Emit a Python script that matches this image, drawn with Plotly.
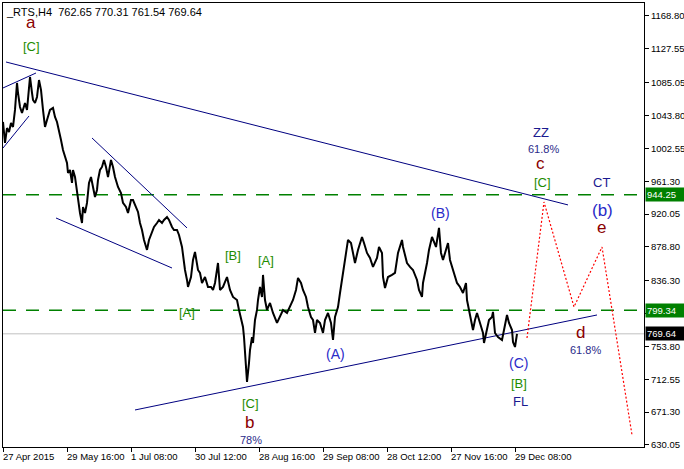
import plotly.graph_objects as go

# ---- price series (bar index, close) ----
bar = [0, 2, 4, 6, 8, 10, 12, 14, 15, 17, 19, 22, 24, 27, 29, 30, 32, 34, 36, 38,
       40, 42, 44, 47, 50, 52, 54, 56, 58, 60, 62, 64, 65, 67, 69, 70, 72, 74, 75, 77,
       79, 80, 82, 84, 86, 88, 90, 92, 94, 95, 97, 99, 101, 103, 105, 108, 110, 112, 115, 118,
       120, 123, 125, 128, 130, 133, 135, 137, 139, 141, 144, 146, 149, 151, 154, 156, 159, 161, 164, 166,
       169, 171, 174, 176, 179, 180, 182, 184, 185, 188, 190, 192, 195, 197, 199, 202, 205, 208, 210, 212,
       215, 217, 220, 224, 227, 230, 234, 236, 238, 240, 241, 242, 244, 246, 247, 249, 250, 252, 254, 255,
       257, 259, 260, 262, 264, 267, 270, 274, 277, 280, 284, 287, 290, 293, 295, 298, 300, 303, 305, 308,
       310, 312, 314, 317, 320, 322, 325, 328, 330, 332, 335, 337, 339, 341, 344, 345, 348, 350, 352, 355,
       359, 361, 364, 367, 370, 374, 376, 379, 380, 382, 385, 389, 392, 395, 399, 400, 404, 407, 410, 414,
       416, 419, 420, 424, 426, 429, 431, 433, 436, 438, 440, 443, 445, 447, 450, 452, 454, 457, 460, 463,
       464, 466, 468, 470, 472, 474, 477, 480, 481, 484, 486, 489, 490, 492, 495, 499, 501, 504, 506, 509,
       510, 512, 514]
close = [1035.7, 1009.3, 1028.1, 1023.1, 1034.4, 1029.4, 1050.8, 1084.7, 1072.1, 1054.5,
         1047.0, 1059.5, 1050.8, 1092.2, 1072.1, 1063.3, 1059.5, 1067.1, 1088.4, 1075.9,
         1050.8, 1029.4, 1038.2, 1050.8, 1053.3, 1042.0, 1035.7, 1025.6, 1013.1, 1000.5,
         991.7, 984.2, 971.6, 975.4, 959.1, 975.4, 966.6, 946.5, 934.0, 921.4,
         908.8, 928.9, 921.4, 934.0, 959.1, 966.6, 954.1, 941.5, 950.3, 962.9,
         975.4, 979.2, 988.0, 979.2, 966.6, 988.0, 979.2, 966.6, 954.1, 946.5,
         934.0, 928.9, 921.4, 937.7, 937.7, 928.9, 922.7, 908.8, 900.1, 887.5,
         875.0, 887.5, 896.3, 903.8, 908.8, 912.6, 908.8, 912.6, 916.4, 912.6,
         903.8, 900.1, 900.1, 893.8, 878.7, 868.7, 849.8, 837.3, 828.5, 841.0,
         862.4, 872.4, 849.8, 846.1, 833.5, 841.0, 828.5, 828.5, 824.7, 833.5,
         858.6, 824.7, 828.5, 841.0, 824.7, 815.9, 812.1, 799.6, 787.0, 778.2,
         765.6, 745.6, 709.2, 733.0, 749.3, 765.6, 758.1, 787.0, 799.6, 812.1,
         828.5, 815.9, 843.6, 812.1, 799.6, 808.4, 795.8, 783.3, 790.8, 799.6,
         795.8, 803.3, 812.1, 824.7, 839.8, 833.5, 824.7, 815.9, 803.3, 790.8,
         787.0, 770.7, 787.0, 783.3, 770.7, 787.0, 795.8, 783.3, 761.9, 790.8,
         803.3, 820.9, 837.3, 849.8, 875.0, 887.5, 883.7, 871.2, 858.6, 875.0,
         891.3, 883.7, 871.2, 864.9, 853.6, 864.9, 878.7, 871.2, 841.0, 827.2,
         841.0, 843.6, 846.1, 871.2, 887.5, 878.7, 858.6, 853.6, 849.8, 837.3,
         824.7, 815.9, 833.5, 858.6, 875.0, 891.3, 883.7, 878.7, 902.6, 871.2,
         862.4, 875.0, 883.7, 862.4, 849.8, 841.0, 833.5, 828.5, 820.9, 833.5,
         812.1, 799.6, 787.0, 774.4, 787.0, 795.8, 783.3, 770.7, 758.1, 774.4,
         787.0, 790.8, 797.1, 770.7, 765.6, 761.9, 774.4, 793.3, 783.3, 774.4,
         759.3, 753.1, 769.64]

# ---- axes ----
y_ticks = [1168.80, 1127.55, 1085.05, 1043.80, 1002.55, 961.30, 920.05,
           878.80, 836.30, 795.05, 753.80, 712.55, 671.30, 630.05]
x_tick_bars = [0, 64, 128, 192, 256, 320, 384, 448, 512]
x_tick_labels = ["27 Apr 2015", "29 May 16:00", "1 Jul 08:00", "30 Jul 12:00",
                 "28 Aug 16:00", "29 Sep 08:00", "28 Oct 12:00", "27 Nov 16:00",
                 "29 Dec 08:00"]

# ---- levels ----
green_levels = [944.25, 799.34]
last_price = 769.64
title_text = "_RTS,H4&nbsp;&nbsp;762.65 770.31 761.54 769.64"

# ---- trend lines: (bar0, price0, bar1, price1) ----
trend_lines = [
    (3, 1111.0, 565, 931.5),
    (132, 674.0, 594, 793.3),
    (0, 1078.4, 33, 1097.2),
    (0, 1003.0, 26, 1043.2),
    (89, 1015.6, 184, 902.6),
    (53, 915.1, 169, 852.3),
]

# ---- projected path (red dotted) ----
proj_bars = [524, 541, 571, 599, 629]
proj_prices = [764.4, 935.2, 803.4, 878.7, 642.6]

# ---- wave labels: (text, bar, price, kind) ----
MAROON = "#8b0000"
GREEN = "#1e8c00"
BLUE = "#2a2ac8"
NAVY = "#1a1a90"
labels = [
    ("a", 28, 1160.0, "big"),
    ("[C]", 28, 1131.1, "green"),
    ("ZZ", 538, 1023.1, "navy"),
    ("61.8%", 540, 1001.8, "pct"),
    ("c", 537, 983.0, "big"),
    ("[C]", 539, 959.1, "green"),
    ("CT", 598, 959.1, "navy"),
    ("(b)", 599, 923.9, "bigblue"),
    ("e", 598, 902.6, "big"),
    ("(B)", 437, 921.4, "blue"),
    ("[B]", 230, 867.4, "green"),
    ("[A]", 263, 861.1, "green"),
    ("[A]", 184, 795.8, "green"),
    ("(A)", 332, 744.3, "blue"),
    ("[C]", 247, 681.6, "green"),
    ("b", 246, 657.7, "big"),
    ("78%", 248, 636.4, "pct"),
    ("(C)", 515, 733.0, "blue"),
    ("[B]", 516, 706.7, "green"),
    ("FL", 517, 684.1, "navy"),
    ("d", 577, 770.7, "big"),
    ("61.8%", 582, 749.3, "pct"),
]
styles = {
    "big": dict(color=MAROON, size=17),
    "green": dict(color=GREEN, size=13),
    "navy": dict(color=NAVY, size=13),
    "blue": dict(color=BLUE, size=14),
    "bigblue": dict(color=BLUE, size=17),
    "pct": dict(color="#2b2b8a", size=11),
}

FONT = "Liberation Sans, Arial, sans-serif"
AX = 9.5

fig = go.Figure()

# horizontal levels
for lv in green_levels:
    fig.add_shape(type="line", xref="paper", x0=0, x1=1, yref="y", y0=lv, y1=lv,
                  line=dict(color="#008000", width=1.5, dash="13px,10px"), layer="below")
fig.add_shape(type="line", xref="paper", x0=0, x1=1, yref="y", y0=last_price, y1=last_price,
              line=dict(color="#c0c0c0", width=1), layer="below")

# trend lines
for b0, p0, b1, p1 in trend_lines:
    fig.add_trace(go.Scatter(x=[b0, b1], y=[p0, p1], mode="lines",
                             line=dict(color="#000080", width=1), hoverinfo="skip",
                             showlegend=False))

# price
fig.add_trace(go.Scatter(x=bar, y=close, mode="lines",
                         line=dict(color="black", width=2), showlegend=False))

# projection
fig.add_trace(go.Scatter(x=proj_bars, y=proj_prices, mode="lines",
                         line=dict(color="#ff0000", width=1.2, dash="2px,2px"),
                         showlegend=False))

# wave labels
for text, b, p, kind in labels:
    st = styles[kind]
    fig.add_annotation(x=b, y=p, xref="x", yref="y", text=text, showarrow=False,
                       font=dict(family=FONT, size=st["size"], color=st["color"]),
                       xanchor="center", yanchor="middle")

# x tick labels
for b, t in zip(x_tick_bars, x_tick_labels):
    fig.add_annotation(x=b, y=-0.0225, xref="x", yref="paper", text=t, showarrow=False,
                       xanchor="left", yanchor="middle", xshift=-2,
                       font=dict(family=FONT, size=AX, color="black"))

# price boxes on right axis
for lv, bg in [(green_levels[0], "#008000"), (green_levels[1], "#008000"), (last_price, "#000000")]:
    fig.add_annotation(x=1, y=lv, xref="paper", yref="y", text="%.2f" % lv, showarrow=False,
                       xanchor="left", yanchor="middle", xshift=1,
                       bgcolor=bg, borderpad=1, width=37, align="left",
                       font=dict(family=FONT, size=AX, color="white"))

# title
fig.add_annotation(x=0, y=1, xref="paper", yref="paper", text=title_text, showarrow=False,
                   xanchor="left", yanchor="top", xshift=1, yshift=-1,
                   font=dict(family=FONT, size=11, color="black"))

fig.update_layout(
    width=684, height=469,
    margin=dict(l=3, r=40, t=3, b=22, autoexpand=False),
    paper_bgcolor="white", plot_bgcolor="white",
    showlegend=False,
    xaxis=dict(range=[0, 641], tickvals=x_tick_bars, showticklabels=False,
               ticks="outside", ticklen=4, tickcolor="black", showgrid=False,
               zeroline=False, showline=True, mirror=True, linecolor="black", linewidth=1),
    yaxis=dict(range=[627.5, 1185.1], side="right", tickvals=y_ticks,
               ticktext=["%.2f" % v for v in y_ticks],
               ticks="outside", ticklen=4, tickcolor="black", showgrid=False,
               zeroline=False, showline=True, mirror=True, linecolor="black", linewidth=1,
               tickfont=dict(family=FONT, size=AX, color="black")),
)

fig.write_html("out.html", config={"displayModeBar": False},
               post_script="document.body.style.margin='0px';document.body.style.overflow='hidden';")
